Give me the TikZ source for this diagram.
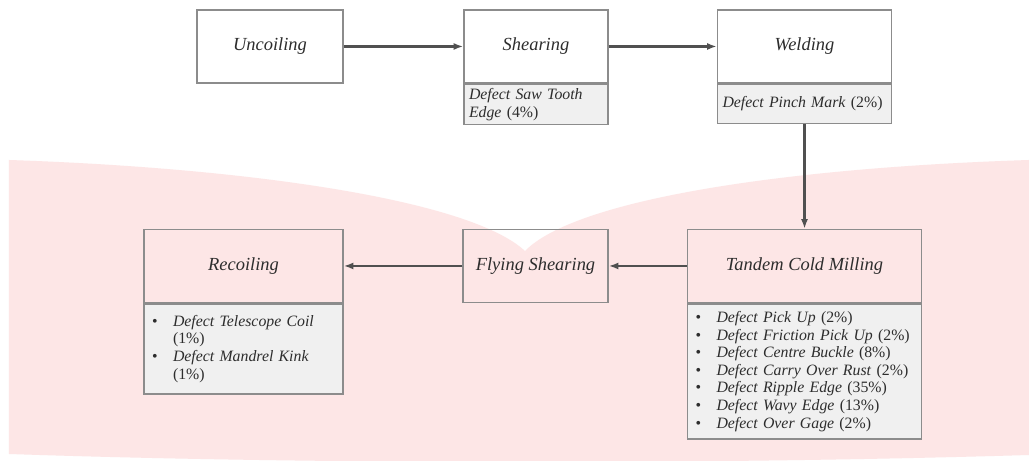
\documentclass[tikz,border=0pt]{standalone}
\usepackage{fontspec}
\setmainfont{Liberation Serif}
\usetikzlibrary{arrows.meta}

\definecolor{bandpink}{RGB}{253,230,230}
\definecolor{defgray}{RGB}{240,240,240}
\definecolor{framegray}{RGB}{140,140,140}
\definecolor{flowgray}{RGB}{80,80,80}
\definecolor{inkgray}{RGB}{45,45,45}

\newcommand{\ditem}[1]{\makebox[0.42cm][l]{\textbullet}\textit{#1}}
\newcommand{\dcont}{\hspace*{0.42cm}}

\tikzset{
  stage/.style={draw=framegray, line width=0.8pt, minimum height=1.46cm,
    font=\fontsize{10.5}{12}\selectfont\itshape, text=inkgray},
  defect/.style={draw=framegray, line width=0.8pt, fill=defgray, anchor=north,
    font=\fontsize{9}{10}\selectfont, text=inkgray, align=left,
    inner xsep=0.16cm, inner ysep=0pt},
  flow/.style={->, draw=flowgray, line width=1.2pt}
}

\begin{document}
\begin{tikzpicture}[>={Latex[length=5.5pt,width=4pt]}]
      \fill[white] (0, 0) rectangle (20.58, 9.22);
      \useasboundingbox (0, 0) rectangle (20.58, 9.22);
      % pink band behind the mill line
      \fill[bandpink] (0.18, 6.02) .. controls (5.00, 5.86) and (9.40, 5.22) .. (10.50, 4.20)
        .. controls (11.50, 5.22) and (15.60, 5.86) .. (20.58, 6.02) -- (20.58, 0.12)
        .. controls (14.0, -0.08) and (6.0, -0.06) .. (0.18, 0.14) -- cycle;
      % top row
      \node[stage, minimum width=2.92cm] (uncoil) at (5.40, 8.29) {Uncoiling};
      \node[stage, minimum width=2.88cm] (shear) at (10.72, 8.29) {Shearing};
      \node[defect, minimum width=2.88cm, minimum height=0.80cm, inner xsep=0.1cm, text width=2.68cm] (shearD) at (shear.south)
        {\textit{Defect Saw Tooth}\\\textit{Edge} (4\%)};
      \node[stage, minimum width=3.48cm] (weld) at (16.09, 8.29) {Welding};
      \node[defect, minimum width=3.48cm, minimum height=0.78cm, inner xsep=0.1cm, text width=3.28cm] (weldD) at (weld.south)
        {\textit{Defect Pinch Mark} (2\%)};
      % bottom row
      \node[stage, minimum width=4.68cm] (tandem) at (16.09, 3.90) {Tandem Cold Milling};
      \node[defect, minimum width=4.68cm, minimum height=2.70cm, text width=4.36cm] (tandemD) at (tandem.south)
        {\ditem{Defect Pick Up} (2\%)\\
         \ditem{Defect Friction Pick Up} (2\%)\\
         \ditem{Defect Centre Buckle} (8\%)\\
         \ditem{Defect Carry Over Rust} (2\%)\\
         \ditem{Defect Ripple Edge} (35\%)\\
         \ditem{Defect Wavy Edge} (13\%)\\
         \ditem{Defect Over Gage} (2\%)};
      \node[stage, minimum width=2.90cm] (fly) at (10.71, 3.90) {Flying Shearing};
      \node[stage, minimum width=3.98cm] (recoil) at (4.87, 3.90) {Recoiling};
      \node[defect, minimum width=3.98cm, minimum height=1.80cm, text width=3.66cm] (recoilD) at (recoil.south)
        {\ditem{Defect Telescope Coil}\\\dcont(1\%)\\
         \ditem{Defect Mandrel Kink}\\\dcont(1\%)};
      % flow
      \draw[flow] (uncoil) -- (shear);
      \draw[flow] (shear) -- (weld);
      \draw[flow] (weldD) -- (tandem);
      \draw[flow] (tandem) -- (fly);
      \draw[flow] (fly) -- (recoil);
\end{tikzpicture}
\end{document}
